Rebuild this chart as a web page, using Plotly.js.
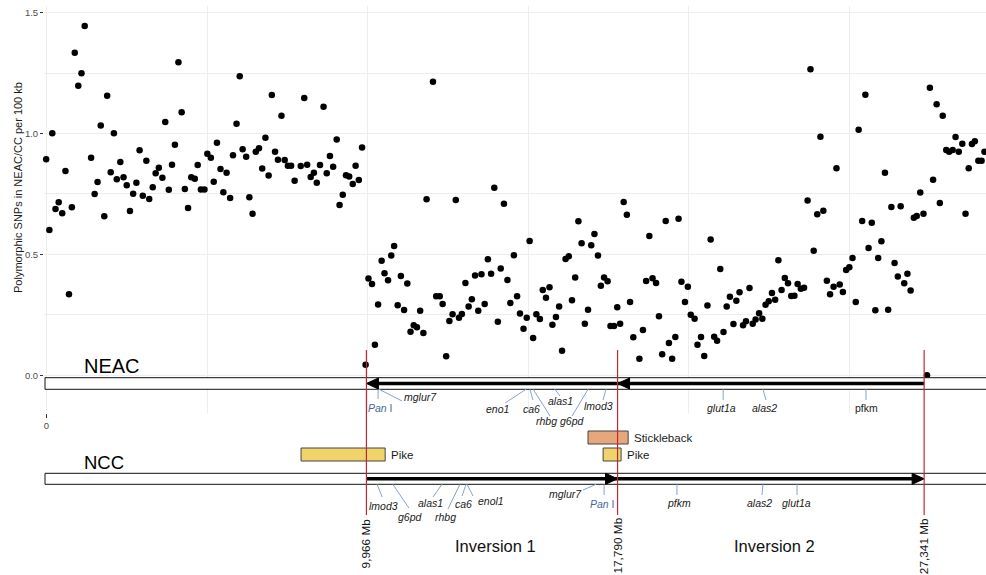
<!DOCTYPE html>
<html><head><meta charset="utf-8">
<script src="https://cdn.plot.ly/plotly-3.0.1.min.js"></script>
<style>html,body{margin:0;padding:0;background:#fff;}#chart{width:986px;height:575px;}</style>
</head><body><div id="chart"></div>
<script>
// ---------------- DATA ----------------
// SNP window positions (Mb) and polymorphic SNP density (per 100 kb)
const snpPos = [-0.01,0.09,0.18,0.28,0.38,0.49,0.59,0.70,0.79,0.88,0.99,1.09,1.19,1.39,1.50,1.59,1.69,1.80,1.89,2.00,
2.10,2.19,2.30,2.40,2.50,2.60,2.70,2.80,2.90,3.00,3.11,3.20,3.31,3.40,3.50,3.61,3.70,3.81,3.91,4.00,
4.11,4.21,4.31,4.41,4.51,4.62,4.71,4.81,4.92,5.01,5.12,5.21,5.31,5.42,5.51,5.61,5.72,5.81,5.92,6.02,
6.11,6.22,6.32,6.42,6.52,6.62,6.72,6.82,6.92,7.02,7.12,7.21,7.32,7.42,7.52,7.62,7.73,7.92,8.03,8.12,
8.23,8.33,8.42,8.52,8.63,8.73,8.83,8.93,9.04,9.13,9.23,9.33,9.43,9.54,9.63,9.73,9.83,9.94,10.03,10.14,
10.23,10.33,10.44,10.53,10.64,10.74,10.83,10.94,11.04,11.14,11.24,11.34,11.44,11.54,11.64,11.74,11.84,12.04,12.14,12.25,
12.34,12.45,12.55,12.65,12.75,12.85,12.94,13.05,13.15,13.25,13.35,13.45,13.55,13.65,13.75,13.85,13.95,14.06,14.15,14.25,
14.36,14.45,14.56,14.66,14.75,14.86,14.96,15.05,15.16,15.26,15.37,15.46,15.56,15.67,15.76,15.87,15.97,16.06,16.17,16.27,
16.37,16.47,16.57,16.67,16.77,16.87,16.97,17.07,17.18,17.27,17.37,17.48,17.57,17.68,17.78,17.87,17.98,18.08,18.18,18.28,
18.47,18.58,18.68,18.78,18.88,18.99,19.08,19.18,19.29,19.39,19.49,19.59,19.69,19.78,19.89,19.98,20.07,20.19,20.28,20.39,
20.49,20.59,20.69,20.80,20.89,20.99,21.09,21.19,21.29,21.40,21.49,21.59,21.70,21.79,21.90,22.00,22.09,22.20,22.30,22.40,
22.50,22.60,22.70,22.80,22.90,23.00,23.10,23.20,23.30,23.40,23.50,23.60,23.71,23.80,23.90,24.01,24.11,24.20,24.31,24.41,
24.52,24.61,24.71,24.81,24.91,25.01,25.11,25.21,25.30,25.41,25.51,25.61,25.71,25.82,25.91,26.01,26.12,26.22,26.32,26.42,
26.52,26.61,26.72,26.82,26.92,27.02,27.11,27.22,27.32,27.43,27.52,27.62,27.73,27.83,27.92,28.03,28.12,28.23,28.32,28.42,
28.53,28.63,28.73,28.83,28.92,29.03,29.13,29.22];
const snpDensity = [0.894,0.601,1.001,0.688,0.716,0.670,0.845,0.335,0.695,1.334,1.198,1.250,1.445,0.900,0.750,0.800,1.033,0.658,1.157,0.840,
1.001,0.811,0.882,0.819,0.786,0.680,0.751,0.796,0.931,0.743,0.888,0.729,0.778,0.836,0.859,0.817,1.048,0.768,0.871,0.954,
1.295,1.088,0.771,0.692,0.819,0.813,0.870,0.769,0.769,0.917,0.900,0.801,0.962,0.853,0.757,0.838,0.733,0.910,1.041,1.237,
0.935,0.904,0.736,0.668,0.925,0.939,0.855,0.983,0.826,1.160,0.925,0.892,1.074,0.891,0.867,0.867,0.805,0.866,1.147,0.871,
0.820,0.838,0.796,0.870,1.111,0.836,0.907,0.863,0.975,0.704,0.747,0.827,0.822,0.791,0.867,0.808,0.942,0.043,0.400,0.377,
0.126,0.293,0.474,0.422,0.393,0.495,0.535,0.289,0.411,0.270,0.379,0.180,0.207,0.198,0.267,0.175,0.728,1.215,0.327,0.327,
0.295,0.078,0.224,0.252,0.725,0.238,0.253,0.382,0.284,0.314,0.413,0.267,0.418,0.295,0.480,0.420,0.776,0.221,0.442,0.710,
0.394,0.299,0.496,0.327,0.255,0.192,0.238,0.555,0.154,0.252,0.233,0.353,0.320,0.364,0.209,0.241,0.284,0.101,0.481,0.492,
0.310,0.404,0.637,0.546,0.213,0.271,0.538,0.584,0.495,0.370,0.404,0.389,0.204,0.204,0.281,0.213,0.717,0.664,0.303,0.157,
0.068,0.187,0.390,0.576,0.401,0.382,0.244,0.087,0.638,0.133,0.068,0.158,0.647,0.387,0.303,0.366,0.250,0.234,0.126,0.158,
0.079,0.288,0.562,0.159,0.143,0.440,0.179,0.284,0.325,0.212,0.308,0.343,0.207,0.223,0.361,0.213,0.230,0.256,0.234,0.292,
0.306,0.340,0.312,0.476,0.353,0.402,0.380,0.328,0.329,0.377,0.358,0.362,0.723,1.266,0.515,0.666,0.987,0.681,0.391,0.335,
0.366,0.856,0.375,0.344,0.435,0.447,0.485,0.303,1.016,0.638,1.161,0.526,0.631,0.269,0.485,0.554,0.838,0.271,0.696,0.464,
0.408,0.699,0.380,0.420,0.351,0.652,0.659,0.756,0.668,0.000,1.190,0.809,1.121,0.713,1.074,0.932,0.925,0.932,0.986,0.925,
0.958,0.668,0.856,0.957,0.968,0.888,0.888,0.925];

// inversion breakpoints (Mb)
const breakpointsMb = [9.966, 17.790, 27.341];
const breakpointLabels = ['9,966 Mb', '17,790 Mb', '27,341 Mb'];
const inversionNames = ['Inversion 1', 'Inversion 2'];

// gene positions on each haplotype (Mb)
const neacGenes = ['Pan I','mglur7','eno1','ca6','rhbg','alas1','g6pd','lmod3','glut1a','alas2','pfkm'];
const neacGeneMb = [10.33,10.36,14.94,15.06,15.16,15.84,16.87,17.43,21.08,22.32,25.53];
const nccGenes = ['lmod3','g6pd','alas1','rhbg','ca6','enol1','mglur7','Pan I','pfkm','alas2','glut1a'];
const nccGeneMb = [10.30,10.79,12.32,12.88,13.07,13.10,17.12,17.37,19.64,22.32,23.38];

// synteny blocks (Mb)
const syntenyNames = ['Pike', 'Stickleback', 'Pike'];
const syntenyStartMb = [7.93, 16.87, 17.34];
const syntenyEndMb = [10.55, 18.12, 17.90];

// ---------------- LAYOUT / STYLE ----------------
const W = 986, H = 575, ML = 44;
const X0 = -0.078, X1 = 29.268;
const PXMB = (W - ML) / (X1 - X0);
const P = py => 1 - py / H;
const FONT = 'Arial, "Liberation Sans", Helvetica, sans-serif';

// label placement (pixels): leader tip dx, tip y, label dx, label y
const neacTipDx = [0,23,-21,3,17,5,-16,-3,0,3,0];
const neacTipY  = [399,401,403,400,416,396,416,400,400,400,400];
const neacLblDx = [2.5,41.5,-29,1.5,13,6,-15.5,-8,-2,2,0];
const neacLblY  = [408,397,409,409,421,401,421,406,408,408,408];
const neacItalic = [true,true,true,true,true,true,true,true,true,true,false];
const nccTipDx = [5,16,-9,-12,-4,6,-13,0,0,-1,0];
const nccTipY  = [497,508,497,509,496,496,490,495,495,495,495];
const nccLblDx = [6,18,-11.5,-14.5,-2.5,23.5,-30.5,-1.5,2,-3.5,-1];
const nccLblY  = [506,517,503,517,504,501,494,504,503,503,503];
const synTop = [448,431,448], synBot = [461,444,461];
const synColors = ['#f1d36c','#e6a77c','#f1d36c'];

const shapes = [], ann = [];
const NEAC = {top:377.7, bot:389.3, mid:383.5};
const NCC = {top:473.3, bot:484.3, mid:478.8};

function bar(b){
  shapes.push({type:'rect', xref:'x', yref:'paper', x0:-0.047, x1:X1+2, y0:P(b.bot), y1:P(b.top),
    line:{color:'#111', width:1}, fillcolor:'#fff', layer:'above'});
}
function thick(a, c, py){
  shapes.push({type:'line', xref:'x', yref:'paper', x0:a, x1:c, y0:P(py), y1:P(py),
    line:{color:'#000', width:3.5}, layer:'above'});
}
function head(tip, py, dir){
  const base = tip - dir * 12 / PXMB;
  shapes.push({type:'path', xref:'x', yref:'paper',
    path:`M ${tip},${P(py)} L ${base},${P(py-5.5)} L ${base},${P(py+5.5)} Z`,
    fillcolor:'#000', line:{color:'#000', width:1}, layer:'above'});
}
bar(NEAC); bar(NCC);
thick(breakpointsMb[0] + 6/PXMB, breakpointsMb[2], NEAC.mid);
head(breakpointsMb[0], NEAC.mid, -1); head(breakpointsMb[1], NEAC.mid, -1);
thick(breakpointsMb[0], breakpointsMb[2] - 6/PXMB, NCC.mid);
head(breakpointsMb[1], NCC.mid, 1); head(breakpointsMb[2], NCC.mid, 1);

// synteny boxes
syntenyNames.forEach((n,i)=>{
  shapes.push({type:'rect', xref:'x', yref:'paper', x0:syntenyStartMb[i], x1:syntenyEndMb[i],
    y0:P(synBot[i]), y1:P(synTop[i]), fillcolor:synColors[i], line:{color:'#444', width:1}, layer:'above'});
  ann.push({xref:'x', yref:'paper', x:syntenyEndMb[i], xshift:4, y:P((synTop[i]+synBot[i])/2),
    xanchor:'left', yanchor:'middle', showarrow:false, text:n, font:{family:FONT, size:11.5, color:'#1a1a1a'}});
});

// red breakpoint lines + labels
breakpointsMb.forEach((b,i)=>{
  shapes.push({type:'line', xref:'x', yref:'paper', x0:b, x1:b, y0:P(350), y1:P(515),
    line:{color:'#c62333', width:1.2}, layer:'above'});
  ann.push({xref:'x', yref:'paper', x:b, y:P(517), xanchor:'center', yanchor:'top', textangle:-90,
    showarrow:false, text:breakpointLabels[i], font:{family:FONT, size:11.8, color:'#111'}, borderpad:0});
});

// genes
function geneText(name, italic){
  if (name === 'Pan I') return '<span style="color:#46689a"><i>Pan</i> I</span>';
  return italic ? '<i>' + name + '</i>' : name;
}
function genes(names, mb, tipDx, tipY, lblDx, lblY, barBot, italic){
  names.forEach((g,i)=>{
    shapes.push({type:'line', xref:'x', yref:'paper', x0:mb[i], y0:P(barBot),
      x1:mb[i] + tipDx[i]/PXMB, y1:P(tipY[i]), line:{color:'#86a3c9', width:1}, layer:'above'});
    ann.push({xref:'x', yref:'paper', x:mb[i], xshift:lblDx[i], y:P(lblY[i]), xanchor:'center', yanchor:'middle',
      showarrow:false, text:geneText(g, italic ? italic[i] : true), font:{family:FONT, size:10.5, color:'#1a1a1a'}});
  });
}
genes(neacGenes, neacGeneMb, neacTipDx, neacTipY, neacLblDx, neacLblY, NEAC.bot, neacItalic);
genes(nccGenes, nccGeneMb, nccTipDx, nccTipY, nccLblDx, nccLblY, NCC.bot, null);

// inversion labels
inversionNames.forEach((n,i)=>{
  ann.push({xref:'x', yref:'paper', x:(breakpointsMb[i]+breakpointsMb[i+1])/2, xshift:4, y:P(546),
    xanchor:'center', yanchor:'middle', showarrow:false, text:n, font:{family:FONT, size:16.5, color:'#111'}});
});

// haplotype labels
ann.push({xref:'paper', yref:'paper', x:(82-ML)/(W-ML), y:P(366), xanchor:'left', yanchor:'middle',
  showarrow:false, text:'NEAC', font:{family:FONT, size:20, color:'#000'}});
ann.push({xref:'paper', yref:'paper', x:(82-ML)/(W-ML), y:P(462), xanchor:'left', yanchor:'middle',
  showarrow:false, text:'NCC', font:{family:FONT, size:18.5, color:'#000'}});

// y axis title
ann.push({xref:'paper', yref:'paper', x:(18-ML)/(W-ML), y:P(188), xanchor:'center', yanchor:'middle', textangle:-90,
  showarrow:false, text:'Polymorphic SNPs in NEAC/CC per 100 kb', font:{family:FONT, size:11, color:'#1a1a1a'}});

const trace = {type:'scatter', mode:'markers', x:snpPos, y:snpDensity, xaxis:'x', yaxis:'y',
  marker:{color:'#000', size:6.5, line:{width:0}}, hoverinfo:'skip', cliponaxis:false};

const layout = {
  width:W, height:H, margin:{l:ML, r:0, t:0, b:0, pad:0},
  paper_bgcolor:'#fff', plot_bgcolor:'#fff', showlegend:false,
  font:{family:FONT},
  xaxis:{range:[X0, X1], tickmode:'array', tickvals:[0], ticktext:['0'], ticks:'outside', ticklen:4,
    tickcolor:'#333', tickwidth:1, tickfont:{family:FONT, size:9.5, color:'#4d4d4d'},
    showgrid:true, gridcolor:'#ededed', gridwidth:1, zeroline:false, showline:false, anchor:'y',
    minor:{tickmode:'linear', tick0:0, dtick:5, showgrid:true, gridcolor:'#ededed', gridwidth:1, ticks:''}},
  yaxis:{domain:[P(413), P(6)], range:[-0.1565, 1.528], tickmode:'array', tickvals:[0,0.5,1,1.5],
    ticktext:['0.0','0.5','1.0','1.5'], ticks:'outside', ticklen:3, tickcolor:'#333', tickwidth:1,
    tickfont:{family:FONT, size:9.5, color:'#4d4d4d'}, showgrid:true, gridcolor:'#ededed', gridwidth:1,
    zeroline:false, showline:false,
    minor:{tickmode:'linear', tick0:0, dtick:0.25, showgrid:true, gridcolor:'#ededed', gridwidth:1, ticks:''}},
  shapes:shapes, annotations:ann
};
Plotly.newPlot('chart', [trace], layout, {staticPlot:true, displayModeBar:false});
</script></body></html>
